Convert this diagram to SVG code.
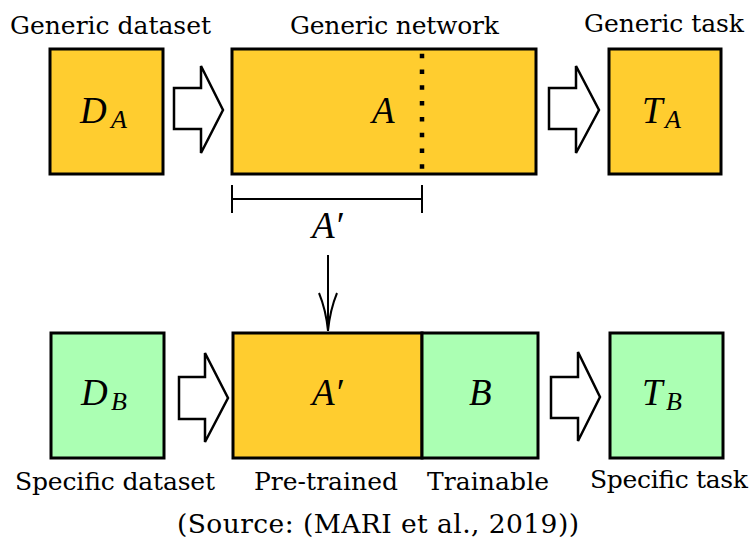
<svg xmlns="http://www.w3.org/2000/svg" width="753" height="542" viewBox="0 0 753 542">
<style>
.box{stroke:#000;stroke-width:3}
.o{fill:#FFCD2F}
.g{fill:#ABFFB3}
.ha{fill:#fff;stroke:#000;stroke-width:2.5;stroke-linejoin:miter}
.lbl{font-family:"DejaVu Serif","Liberation Serif",serif;font-size:25px;fill:#000}
.cap{font-size:26.5px}
.m{font-family:"Liberation Serif","Times New Roman",serif;font-style:italic;font-size:37px;fill:#000}
.s{font-size:26px}
.ln{stroke:#000;stroke-width:2;fill:none}
</style>
<rect width="753" height="542" fill="#fff"/>
<g id="labels">
<text class="lbl" x="10" y="34" textLength="201">Generic dataset</text>
<text class="lbl" x="290" y="34" textLength="209">Generic network</text>
<text class="lbl" x="584" y="32" textLength="160">Generic task</text>
<text class="lbl" x="15" y="490" textLength="200">Specific dataset</text>
<text class="lbl" x="254" y="490" textLength="144">Pre-trained</text>
<text class="lbl" x="427" y="490" textLength="122">Trainable</text>
<text class="lbl" x="590" y="488" textLength="158">Specific task</text>
<text class="lbl cap" x="177" y="533" textLength="402">(Source: (MARI et al., 2019))</text>
</g>
<g id="DA">
<rect class="box o" x="50" y="49" width="113" height="125"/>
<text class="m" x="80" y="123">D</text><text class="m s" x="111" y="128">A</text>
</g>
<g id="A">
<rect class="box o" x="232" y="49" width="304" height="125"/>
<line x1="422" y1="53.7" x2="422" y2="170" stroke="#000" stroke-width="4.5" stroke-dasharray="4.5 11.3"/>
<text class="m" x="372" y="123">A</text>
</g>
<g id="TA">
<rect class="box o" x="609" y="49" width="112" height="125"/>
<text class="m" x="642" y="123">T</text><text class="m s" x="665" y="128">A</text>
</g>
<g id="Aprime-label">
<text class="m" x="312" y="238">A′</text>
</g>
<g id="DB">
<rect class="box g" x="51" y="333" width="113" height="125"/>
<text class="m" x="81" y="405">D</text><text class="m s" x="111" y="410">B</text>
</g>
<g id="Aprime">
<rect class="box o" x="233" y="333" width="189" height="125"/>
<text class="m" x="312" y="405">A′</text>
</g>
<g id="B">
<rect class="box g" x="422" y="333" width="116" height="125"/>
<text class="m" x="469" y="405">B</text>
</g>
<g id="TB">
<rect class="box g" x="610" y="333" width="113" height="125"/>
<text class="m" x="642" y="405">T</text><text class="m s" x="666" y="410">B</text>
</g>
<g id="connectors">
<path class="ha" d="M174,88 H201 V66 L223,110 L201,153 V129 H174 Z"/>
<path class="ha" d="M549,88 H576 V66 L599,110 L576,153 V129 H549 Z"/>
<path class="ha" d="M179,377 H205 V353 L228,398 L205,442 V419 H179 Z"/>
<path class="ha" d="M551,377 H578 V352 L600,397 L578,441 V418 H551 Z"/>
<path class="ln" d="M232,185 V213 M232,199 H422 M422,185 V213"/>
<path class="ln" d="M328,255 V331"/>
<path class="ln" d="M319,293 Q326,310 328,331 Q330,310 337,293"/>
</g>
</svg>
